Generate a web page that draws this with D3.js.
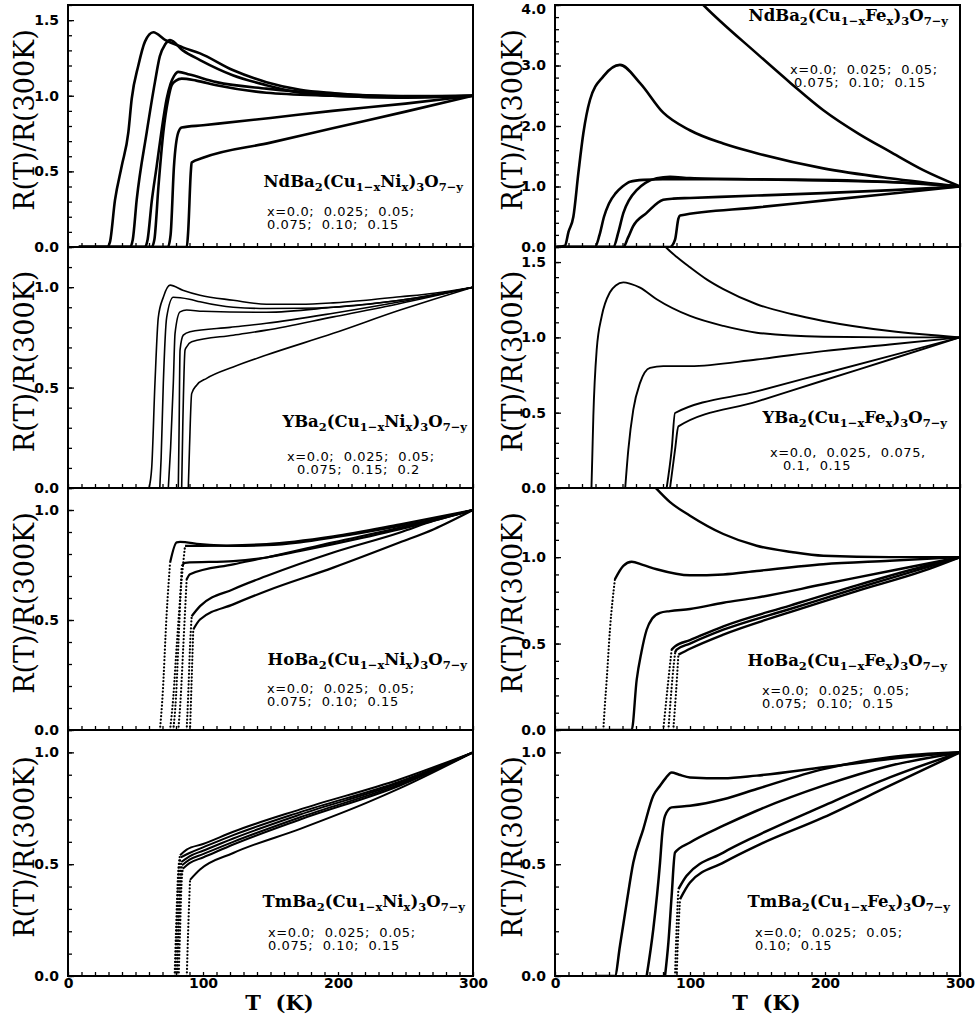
<!DOCTYPE html>
<html>
<head>
<meta charset="utf-8">
<script src="https://cdn.jsdelivr.net/npm/d3@7"></script>
<style>
body { margin: 0; background: #fff; }
svg { display: block; }
text { white-space: pre; }
</style>
</head>
<body>
<div id="chart"></div>
<script>
// R(T)/R(300K) curves, [T (K), ratio]
var ndNi = [
  [[8,0],[29,0],[31,0.03],[34.8,0.31],[39.8,0.535],[44.7,0.758],[47.2,0.98],[52.1,1.2],[57,1.358],[63.2,1.42],[71.9,1.37],[85,1.32],[97.8,1.28],[122,1.17],[147,1.09],[172,1.04],[196,1.018],[221,1.003],[271,0.997],[300,1.0]],
  [[8,0],[46,0],[48,0.05],[50.9,0.313],[58.3,0.758],[64.4,1.09],[68,1.26],[72,1.34],[75.6,1.369],[85,1.3],[97.8,1.236],[122,1.136],[147,1.07],[172,1.02],[196,1.0],[246,0.99],[300,1.0]],
  [[8,0],[57,0],[59,0.05],[62,0.3],[65.7,0.535],[69,0.75],[73.1,0.98],[76,1.08],[78.5,1.13],[81.7,1.158],[90,1.14],[110,1.09],[147,1.047],[196,1.013],[246,0.996],[300,1.0]],
  [[8,0],[62,0],[64,0.05],[67,0.4],[70.6,0.758],[74.3,0.98],[76.8,1.07],[80,1.1],[84.2,1.113],[95,1.1],[110,1.07],[147,1.02],[196,1.0],[246,0.987],[300,1.0]],
  [[8,0],[74,0],[76,0.08],[78.5,0.535],[81.7,0.758],[84.2,0.79],[100,0.805],[150,0.853],[196,0.9],[250,0.948],[300,1.0]],
  [[8,0],[88,0],[89,0.1],[91,0.5],[91.6,0.558],[100,0.59],[150,0.69],[196,0.785],[250,0.895],[300,1.0]]
];
var ndFe = [
  [[95,4.35],[109.9,4.0],[149.4,3.2],[175,2.7],[198.8,2.26],[225,1.87],[248.1,1.576],[272.8,1.27],[300,1.0]],
  [[1,0],[7.4,0.02],[10,0.25],[13.6,0.5],[17.3,1.22],[21,1.88],[25.9,2.43],[35.8,2.82],[48.1,3.01],[63,2.71],[80.2,2.22],[99.9,1.93],[124.6,1.71],[149.4,1.55],[198.8,1.3],[248.1,1.135],[300,1.0]],
  [[1,0],[29.6,0],[33,0.2],[36.3,0.5],[40,0.72],[45,0.89],[50,1.0],[55.6,1.08],[65.4,1.11],[80,1.12],[120,1.12],[200,1.1],[260,1.06],[300,1.0]],
  [[1,0],[43.2,0],[47,0.25],[50.6,0.56],[55,0.78],[60.5,0.94],[67,1.06],[75.3,1.135],[85.2,1.16],[100,1.14],[150,1.12],[220,1.1],[270,1.05],[300,1.0]],
  [[1,0],[50.6,0],[54,0.15],[57.8,0.34],[67.7,0.56],[80.2,0.78],[87.6,0.8],[100,0.81],[150,0.85],[198.8,0.89],[250,0.94],[300,1.0]],
  [[1,0],[85.2,0],[88.9,0.12],[91.4,0.47],[92.6,0.52],[150,0.655],[200,0.77],[250,0.885],[300,1.0]]
];
var yNi = [
  [[60,0],[62,0.1],[64.4,0.52],[66.9,0.85],[70.6,0.95],[75.6,1.01],[85,0.985],[97.8,0.96],[122.4,0.935],[147,0.915],[172,0.915],[196.5,0.922],[221,0.935],[246,0.952],[271,0.97],[300,1.0]],
  [[68,0],[69,0.15],[70.6,0.52],[73.1,0.85],[78,0.95],[90,0.94],[97.8,0.927],[122.4,0.9],[147,0.894],[172,0.895],[196.5,0.9],[246,0.935],[271,0.96],[300,1.0]],
  [[74.3,0],[76,0.2],[78,0.52],[79.3,0.77],[83,0.877],[87.9,0.886],[100,0.88],[147,0.875],[196.5,0.9],[246,0.935],[300,1.0]],
  [[81.7,0],[82.3,0.3],[83,0.687],[85.4,0.761],[90.4,0.778],[120,0.8],[147,0.82],[196.5,0.87],[246,0.927],[300,1.0]],
  [[84.2,0],[85,0.3],[86.7,0.687],[87.9,0.703],[91.6,0.728],[122.4,0.761],[147,0.786],[196.5,0.852],[246,0.919],[300,1.0]],
  [[89.1,0],[90,0.2],[91.6,0.47],[95.3,0.512],[102.7,0.546],[122.4,0.603],[147,0.662],[196.5,0.77],[246,0.886],[271,0.94],[300,1.0]]
];
var yFe = [
  [[76,1.66],[82,1.6],[90,1.535],[100,1.465],[112.3,1.385],[124.7,1.32],[149.4,1.22],[175,1.155],[198.8,1.109],[248.1,1.042],[300,1.0]],
  [[27,0],[27.6,0.2],[28.4,0.475],[30.9,0.92],[34.6,1.14],[40.7,1.3],[45,1.345],[50.6,1.365],[56,1.355],[63,1.33],[75.3,1.253],[100,1.142],[124.7,1.076],[149.4,1.031],[198.8,1.004],[248,1.0],[300,1.0]],
  [[52,0],[54.3,0.253],[58,0.52],[63,0.698],[70.4,0.798],[80.2,0.809],[100,0.809],[149.4,0.853],[198.8,0.909],[248,0.953],[300,1.0]],
  [[82.7,0],[86.4,0.253],[88.9,0.498],[150,0.643],[200,0.762],[250,0.881],[300,1.0]],
  [[85.2,0],[88.9,0.253],[91.4,0.409],[150,0.575],[200,0.717],[250,0.858],[300,1.0]]
];
var hoNi = [
  [[68.1,0],[70,0.15],[73.1,0.53],[75.6,0.76],[80.5,0.853],[83,0.855],[97.8,0.845],[122.4,0.837],[147,0.84],[172,0.853],[196.5,0.875],[246,0.928],[271,0.958],[300,1.0]],
  [[75.6,0],[78,0.15],[80.5,0.38],[84.2,0.685],[86.7,0.837],[97.8,0.837],[147,0.845],[196.5,0.88],[246,0.935],[300,1.0]],
  [[78,0],[80,0.15],[81.7,0.38],[84.2,0.745],[86.7,0.76],[122.4,0.768],[147,0.784],[172,0.814],[196.5,0.845],[246,0.913],[300,1.0]],
  [[81.7,0],[83.5,0.15],[85.4,0.38],[87.9,0.685],[90.4,0.708],[122.4,0.753],[147,0.784],[196.5,0.853],[246,0.92],[300,1.0]],
  [[87.9,0],[89,0.15],[90.4,0.38],[91.6,0.517],[97.8,0.563],[122.4,0.64],[147,0.7],[196.5,0.807],[246,0.898],[271,0.951],[300,1.0]],
  [[90.4,0],[91.6,0.228],[92.8,0.457],[97.8,0.502],[122.4,0.571],[147,0.632],[196.5,0.738],[246,0.853],[271,0.913],[300,1.0]]
];
var hoFe = [
  [[70,1.44],[75.3,1.395],[85,1.32],[100,1.24],[124.7,1.134],[149.4,1.066],[175,1.03],[198.8,1.008],[248,1.0],[300,1.0]],
  [[1,0],[35.8,0],[37,0.15],[38.3,0.29],[40.7,0.58],[44.4,0.872],[50.6,0.95],[56.8,0.973],[65,0.955],[75.3,0.93],[100,0.895],[124.7,0.9],[149.4,0.92],[198.8,0.959],[248,0.979],[300,1.0]],
  [[1,0],[56.8,0],[60.5,0.29],[64,0.45],[67.9,0.58],[72,0.645],[77.8,0.678],[85.2,0.688],[100,0.7],[124.7,0.736],[149.4,0.766],[198.8,0.843],[248,0.92],[300,1.0]],
  [[80.2,0],[84,0.29],[86.4,0.465],[88.9,0.484],[100,0.52],[124.7,0.6],[174.1,0.72],[223.5,0.837],[272.8,0.946],[300,1.0]],
  [[84,0],[87,0.3],[89,0.45],[90.1,0.465],[100,0.5],[124.7,0.58],[174.1,0.7],[223.5,0.82],[272.8,0.935],[300,1.0]],
  [[87.6,0],[89.5,0.2],[91.4,0.436],[100,0.47],[124.7,0.552],[174.1,0.682],[223.5,0.804],[272.8,0.92],[300,1.0]]
];
var tmNi = [
  [[57,0],[79,0],[80,0.2],[81.5,0.45],[83,0.54],[87.9,0.565],[100,0.59],[122.4,0.645],[172,0.745],[246,0.88],[300,1.0]],
  [[79.5,0],[80.5,0.2],[82,0.45],[83.5,0.53],[90,0.55],[100,0.575],[122.4,0.63],[172,0.733],[246,0.87],[300,1.0]],
  [[80.5,0],[81.5,0.2],[83,0.45],[84,0.51],[90,0.535],[100,0.56],[122.4,0.615],[172,0.722],[246,0.864],[300,1.0]],
  [[81,0],[82,0.2],[83.5,0.43],[84.5,0.495],[90,0.52],[100,0.545],[122.4,0.6],[172,0.71],[246,0.858],[300,1.0]],
  [[82,0],[83,0.2],[84,0.4],[85,0.48],[90,0.505],[100,0.53],[122.4,0.588],[172,0.7],[246,0.852],[300,1.0]],
  [[88,0],[89,0.2],[90.4,0.43],[97.8,0.476],[122.4,0.55],[172,0.658],[221,0.774],[246,0.84],[300,1.0]]
];
var tmFe = [
  [[30,0],[44.4,0],[48.1,0.134],[53.1,0.328],[58,0.507],[65.4,0.657],[72.8,0.806],[77.8,0.851],[82,0.885],[86.4,0.91],[92,0.9],[100,0.888],[124.7,0.884],[149.4,0.896],[198.8,0.933],[248,0.97],[300,1.0]],
  [[67.9,0],[72.8,0.209],[77.8,0.507],[79.5,0.64],[81.5,0.716],[86.4,0.754],[100,0.761],[124.7,0.79],[149.4,0.836],[198.8,0.925],[248,0.978],[300,1.0]],
  [[81.5,0],[84,0.15],[86.4,0.358],[88.9,0.552],[100,0.597],[124.7,0.672],[149.4,0.739],[198.8,0.851],[248,0.94],[300,1.0]],
  [[88.9,0],[90,0.2],[91.4,0.388],[97.5,0.448],[124.7,0.552],[149.4,0.627],[198.8,0.761],[248,0.888],[300,1.0]],
  [[90.1,0],[91,0.15],[92.6,0.343],[100,0.418],[124.7,0.507],[149.4,0.582],[198.8,0.709],[248,0.851],[300,1.0]]
];

var hosts = ["Nd", "Y", "Ho", "Tm"];
var dopants = ["Ni", "Fe"];
var concA = ["x=0.0;  0.025;  0.05;", "0.075;  0.10;  0.15"];
var concB = ["x=0.0;  0.025;  0.05;", "0.075;  0.15;  0.2"];
var concC = ["x=0.0,  0.025,  0.075,", "0.1,  0.15"];
var concD = ["x=0.0;  0.025;  0.05;", "0.10;  0.15"];
var tTicks = [0, 100, 200, 300];
var tMinor = d3.range(0, 301, 10);

// layout
var colX = [[68, 473], [555, 960]];
var rowY = [5, 247, 488, 730, 976];

var panels = [
  {c:0, r:0, curves:ndNi, ymax:1.6, major:[0,0.5,1,1.5], minor:0.1, lw:2.6, dots:[], conc:concA, fx:463, fy:187, lx:267, ly:216, ind:0},
  {c:1, r:0, curves:ndFe, ymax:4.0, major:[0,1,2,3,4], minor:0.2, lw:2.6, dots:[], conc:concA, fx:948, fy:21, lx:790, ly:74, ind:4},
  {c:0, r:1, curves:yNi, ymax:1.2, major:[0,0.5,1], minor:0.1, lw:1.6, dots:[], conc:concB, fx:467, fy:427, lx:287, ly:461, ind:10},
  {c:1, r:1, curves:yFe, ymax:1.6, major:[0,0.5,1,1.5], minor:0.1, lw:1.9, dots:[], conc:concC, fx:947, fy:423, lx:770, ly:457, ind:13},
  {c:0, r:2, curves:hoNi, ymax:1.1, major:[0,0.5,1], minor:0.1, lw:2.2, dots:[0,1,2,3,4,5], conc:concA, fx:467, fy:665, lx:267, ly:693, ind:0},
  {c:1, r:2, curves:hoFe, ymax:1.4, major:[0,0.5,1], minor:0.1, lw:2.4, dots:[1,3,4,5], conc:concA, fx:947, fy:666, lx:762, ly:695, ind:0},
  {c:0, r:3, curves:tmNi, ymax:1.1, major:[0,0.5,1], minor:0.1, lw:2.0, dots:[0,1,2,3,4,5], conc:concA, fx:465, fy:907, lx:268, ly:937, ind:0},
  {c:1, r:3, curves:tmFe, ymax:1.1, major:[0,0.5,1], minor:0.1, lw:2.5, dots:[3,4], conc:concD, fx:950, fy:907, lx:755, ly:937, ind:0}
];

var svg = d3.select("#chart").append("svg")
    .attr("width", 975)
    .attr("height", 1018);

// split a curve into baseline / transition / normal state parts
function splitCurve(pts) {
  if (pts[0][1] > 0) return [null, null, pts];
  var z = 0;
  while (z + 1 < pts.length && pts[z + 1][1] === 0) z++;
  var k = z + 1;
  while (k + 1 < pts.length) {
    var s = (pts[k + 1][1] - pts[k][1]) / (pts[k + 1][0] - pts[k][0]);
    if (pts[k][1] > 0.15 && s < 0.03) break;
    k++;
  }
  return [pts.slice(0, z + 1), pts.slice(z, k + 1), pts.slice(k)];
}

panels.forEach(function(p, i) {
  var x0 = colX[p.c][0], x1 = colX[p.c][1];
  var y0 = rowY[p.r], y1 = rowY[p.r + 1];
  var x = d3.scaleLinear().domain([0, 300]).range([x0, x1]);
  var y = d3.scaleLinear().domain([0, p.ymax]).range([y1, y0]);

  svg.append("clipPath").attr("id", "clip" + i)
    .append("rect").attr("x", x0).attr("y", y0).attr("width", x1 - x0).attr("height", y1 - y0);

  var line = d3.line()
      .x(function(d) { return x(d[0]); })
      .y(function(d) { return y(d[1]); })
      .curve(d3.curveMonotoneX);

  var g = svg.append("g").attr("clip-path", "url(#clip" + i + ")");
  p.curves.forEach(function(c, ci) {
    var parts = p.dots.indexOf(ci) >= 0 ? splitCurve(c) : [null, null, c];
    if (parts[0] && parts[0].length > 1)
      g.append("path").attr("d", line(parts[0])).attr("fill", "none")
        .attr("stroke", "#000").attr("stroke-width", 1.6);
    if (parts[1])
      g.append("path").attr("d", line(parts[1])).attr("fill", "none")
        .attr("stroke", "#000").attr("stroke-width", 2.2)
        .attr("stroke-linecap", "round").attr("stroke-dasharray", "0.1,3.4");
    g.append("path").attr("d", line(parts[2])).attr("fill", "none")
      .attr("stroke", "#000").attr("stroke-width", p.lw)
      .attr("stroke-linejoin", "round");
  });

  // axes: ticks point inward
  var minorY = d3.range(0, p.ymax + 1e-6, p.minor).map(function(v) { return +v.toFixed(2); });
  var ax = svg.append("g").attr("transform", "translate(" + x0 + ",0)");
  ax.call(d3.axisLeft(y).tickValues(minorY).tickSize(-4).tickSizeOuter(0).tickFormat(""));
  ax.select(".domain").remove();
  var axM = svg.append("g").attr("transform", "translate(" + x0 + ",0)");
  axM.call(d3.axisLeft(y).tickValues(p.major).tickSize(-6).tickSizeOuter(0)
      .tickPadding(9).tickFormat(d3.format(".1f")));
  axM.select(".domain").remove();
  axM.selectAll("text").attr("font-family", "DejaVu Sans").attr("font-weight", "bold")
      .attr("font-size", 14).attr("fill", "#000");
  // keep the top label of the upper row inside the page
  if (p.r === 0) axM.selectAll(".tick text").filter(function(d) { return d === p.ymax; }).attr("dy", "0.62em");

  var bx = svg.append("g").attr("transform", "translate(0," + y1 + ")");
  bx.call(d3.axisBottom(x).tickValues(tMinor).tickSize(-4).tickSizeOuter(0).tickFormat(""));
  bx.select(".domain").remove();
  if (p.r === 3) {
    var bl = svg.append("g").attr("transform", "translate(0," + y1 + ")");
    bl.call(d3.axisBottom(x).tickValues(tTicks).tickSize(0).tickPadding(2).tickFormat(d3.format("d")));
    bl.select(".domain").remove();
    bl.selectAll("text").attr("font-family", "DejaVu Sans").attr("font-weight", "bold")
      .attr("font-size", 14).attr("fill", "#000");
  }
  svg.selectAll(".tick line").attr("stroke", "#000").attr("stroke-width", 1.3);

  svg.append("rect").attr("x", x0).attr("y", y0).attr("width", x1 - x0).attr("height", y1 - y0)
    .attr("fill", "none").attr("stroke", "#000").attr("stroke-width", 2);

  // y label
  svg.append("text")
    .attr("transform", "translate(" + (p.c === 0 ? 34 : 522) + "," + ((y0 + y1) / 2 - 6) + ") rotate(-90)")
    .attr("text-anchor", "middle")
    .attr("font-family", "DejaVu Serif").attr("font-size", 27)
    .text("R(T)/R(300K)");

  // compound formula
  var f = svg.append("text").attr("x", p.fx).attr("y", p.fy).attr("text-anchor", "end")
    .attr("font-family", "DejaVu Serif").attr("font-weight", "bold").attr("font-size", 16.5);
  var parts = [[hosts[p.r] + "Ba", 0], ["2", 1], ["(Cu", 0], ["1\u2212x", 1], [dopants[p.c], 0],
               ["x", 1], [")", 0], ["3", 1], ["O", 0], ["7\u2212y", 1]];
  var shift = 0;
  parts.forEach(function(t) {
    var dy = t[1] ? 4 - shift : -shift;
    shift += dy;
    f.append("tspan").attr("dy", dy).attr("font-size", t[1] ? 11.5 : 16.5).text(t[0]);
  });

  p.conc.forEach(function(s, j) {
    svg.append("text").attr("x", p.lx + (j ? p.ind : 0)).attr("y", p.ly + j * 13)
      .attr("font-family", "DejaVu Sans").attr("font-size", 13)
      .attr("letter-spacing", 0.6).text(s);
  });
});

// x axis titles
[0, 1].forEach(function(c) {
  svg.append("text")
    .attr("x", (colX[c][0] + colX[c][1]) / 2 + 9).attr("y", 1010)
    .attr("text-anchor", "middle")
    .attr("font-family", "DejaVu Serif").attr("font-weight", "bold").attr("font-size", 21)
    .text("T  (K)");
});
</script>
</body>
</html>
